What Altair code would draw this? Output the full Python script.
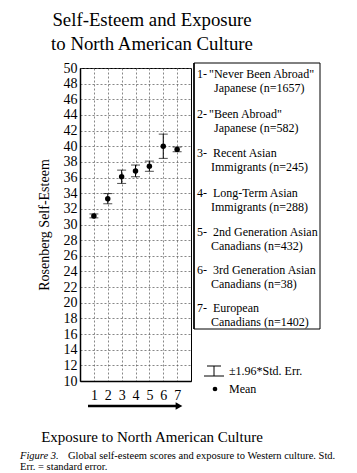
import altair as alt
import pandas as pd

# ---- data ----
groups = [1, 2, 3, 4, 5, 6, 7]
means = [31.1, 33.3, 36.1, 36.85, 37.45, 40.0, 39.6]
errs = [0.25, 0.65, 0.85, 0.75, 0.65, 1.55, 0.3]
y_ticks = list(range(10, 52, 2))
x_ticks = [1, 2, 3, 4, 5, 6, 7]
title_lines = ["Self-Esteem and Exposure", "to North American Culture"]
legend_nums = ["1-", "2-", "3-", "4-", "5-", "6-", "7-"]
legend_line1 = ['"Never Been Abroad"', '"Been Abroad"', "Recent Asian", "Long-Term Asian",
                "2nd Generation Asian", "3rd Generation Asian", "European"]
legend_line2 = ["Japanese (n=1657)", "Japanese (n=582)", "Immigrants (n=245)",
                "Immigrants (n=288)", "Canadians (n=432)", "Canadians (n=38)",
                "Canadians (n=1402)"]
y_title = "Rosenberg Self-Esteem"
x_title = "Exposure to North American Culture"
err_label = "\u00b11.96*Std. Err."
mean_label = "Mean"
caption_fig = "Figure 3."
caption_1 = "Global self-esteem scores and exposure to Western culture. Std."
caption_2 = "Err. = standard error."

df = pd.DataFrame({"g": groups, "m": means, "e": errs})
df["lo"] = df["m"] - df["e"]
df["hi"] = df["m"] + df["e"]

FONT = "'Liberation Serif', 'Times New Roman', serif"
OX, OY = 80, 68          # plot origin in page pixels
PW, PH = 111, 313        # plot size
W, H = 357, 473

one = alt.Data(values=[{"a": 1}])

def px(v):
    return alt.value(v - OX)

def py(v):
    return alt.value(v - OY)

xs = alt.Scale(domain=[0, 8], nice=False, zero=False)
ys = alt.Scale(domain=[10, 50], nice=False, zero=False)

x_axis = alt.Axis(values=x_ticks, title=None, grid=True, gridDash=[2, 2],
                  gridColor="#555", gridWidth=0.7, ticks=False,
                  labelFont=FONT, labelFontSize=14, labelColor="black",
                  labelPadding=7, domainColor="black", domainWidth=1.5,
                  labelAngle=0, labelOverlap=False, labelFlush=False)
y_axis = alt.Axis(values=y_ticks, title=None, grid=True, gridDash=[2, 2],
                  gridColor="#555", gridWidth=0.7, ticks=False,
                  labelFont=FONT, labelFontSize=14, labelColor="black",
                  labelPadding=3, domainColor="black", domainWidth=1.5,
                  labelOverlap=False, labelFlush=False)

base = alt.Chart(df)

points = base.mark_point(filled=True, color="black", size=30, opacity=1).encode(
    x=alt.X("g:Q", scale=xs, axis=x_axis),
    y=alt.Y("m:Q", scale=ys, axis=y_axis),
)
bars = base.mark_rule(color="black", strokeWidth=1).encode(
    x=alt.X("g:Q", scale=xs, axis=x_axis),
    y=alt.Y("lo:Q", scale=ys, axis=y_axis), y2="hi:Q")
cap_hi = base.mark_tick(color="black", orient="horizontal", size=9, thickness=1).encode(
    x=alt.X("g:Q", scale=xs, axis=x_axis), y=alt.Y("hi:Q", scale=ys, axis=y_axis))
cap_lo = base.mark_tick(color="black", orient="horizontal", size=9, thickness=1).encode(
    x=alt.X("g:Q", scale=xs, axis=x_axis), y=alt.Y("lo:Q", scale=ys, axis=y_axis))

layers = [points, bars, cap_hi, cap_lo]

def text(s, x, y, size, align="left", italic=False, angle=0):
    kw = dict(text=s, font=FONT, fontSize=size, align=align, baseline="middle",
              color="black")
    if italic:
        kw["fontStyle"] = "italic"
    if angle:
        kw["angle"] = angle
    return alt.Chart(one).mark_text(**kw).encode(x=px(x), y=py(y))

# title
layers.append(text(title_lines[0], 152, 20, 18.8, "center"))
layers.append(text(title_lines[1], 152, 44, 18.8, "center"))

# y title
layers.append(text(y_title, 45, 225, 14, "center", angle=270))

# x arrow + title
layers.append(alt.Chart(one).mark_rule(color="black", strokeWidth=2.5).encode(
    x=px(88), x2=px(176), y=py(406)))
layers.append(alt.Chart(one).mark_point(shape="triangle-right", filled=True,
                                         color="black", size=60, opacity=1).encode(
    x=px(179), y=py(406)))
layers.append(text(x_title, 152, 437, 15, "center"))

# legend box
layers.append(alt.Chart(one).mark_rect(fill="white", fillOpacity=0, stroke="black",
                                        strokeWidth=1).encode(
    x=px(194), x2=px(320), y=py(63), y2=py(329)))
layers.append(alt.Chart(one).mark_rule(color="black", strokeWidth=1.5).encode(
    x=px(194), y=py(63), y2=py(329)))

tops = [74, 114, 153, 193, 232, 270, 308]
for i in range(7):
    t = tops[i]
    layers.append(text(legend_nums[i], 197, t, 12))
    x1 = 209 if i < 2 else 213
    x2 = 214 if i < 2 else 211
    layers.append(text(legend_line1[i], x1, t, 12))
    layers.append(text(legend_line2[i], x2, t + 14, 12))

# error bar legend icon
layers.append(alt.Chart(one).mark_rule(color="black", strokeWidth=1).encode(
    x=px(207), x2=px(221), y=py(366)))
layers.append(alt.Chart(one).mark_rule(color="black", strokeWidth=1).encode(
    x=px(204), x2=px(224), y=py(376)))
layers.append(alt.Chart(one).mark_rule(color="black", strokeWidth=1).encode(
    x=px(214), y=py(366), y2=py(376)))
layers.append(text(err_label, 229, 371, 12))
layers.append(alt.Chart(one).mark_point(shape="circle", filled=True, color="black",
                                         size=22, opacity=1).encode(
    x=px(215), y=py(389)))
layers.append(text(mean_label, 229, 389, 12))

# caption
layers.append(text(caption_fig, 20, 456, 10.5, italic=True))
layers.append(text(caption_1, 68, 456, 10.5))
layers.append(text(caption_2, 20, 467, 10.5))

chart = alt.layer(*layers).properties(
    width=PW, height=PH,
    autosize=alt.AutoSizeParams(type="none"),
    padding={"left": OX, "top": OY, "right": W - OX - PW, "bottom": H - OY - PH},
    background="white",
).configure_view(stroke="black", strokeWidth=1)

chart.save("out.html", embed_options={"renderer": "svg", "actions": False})
